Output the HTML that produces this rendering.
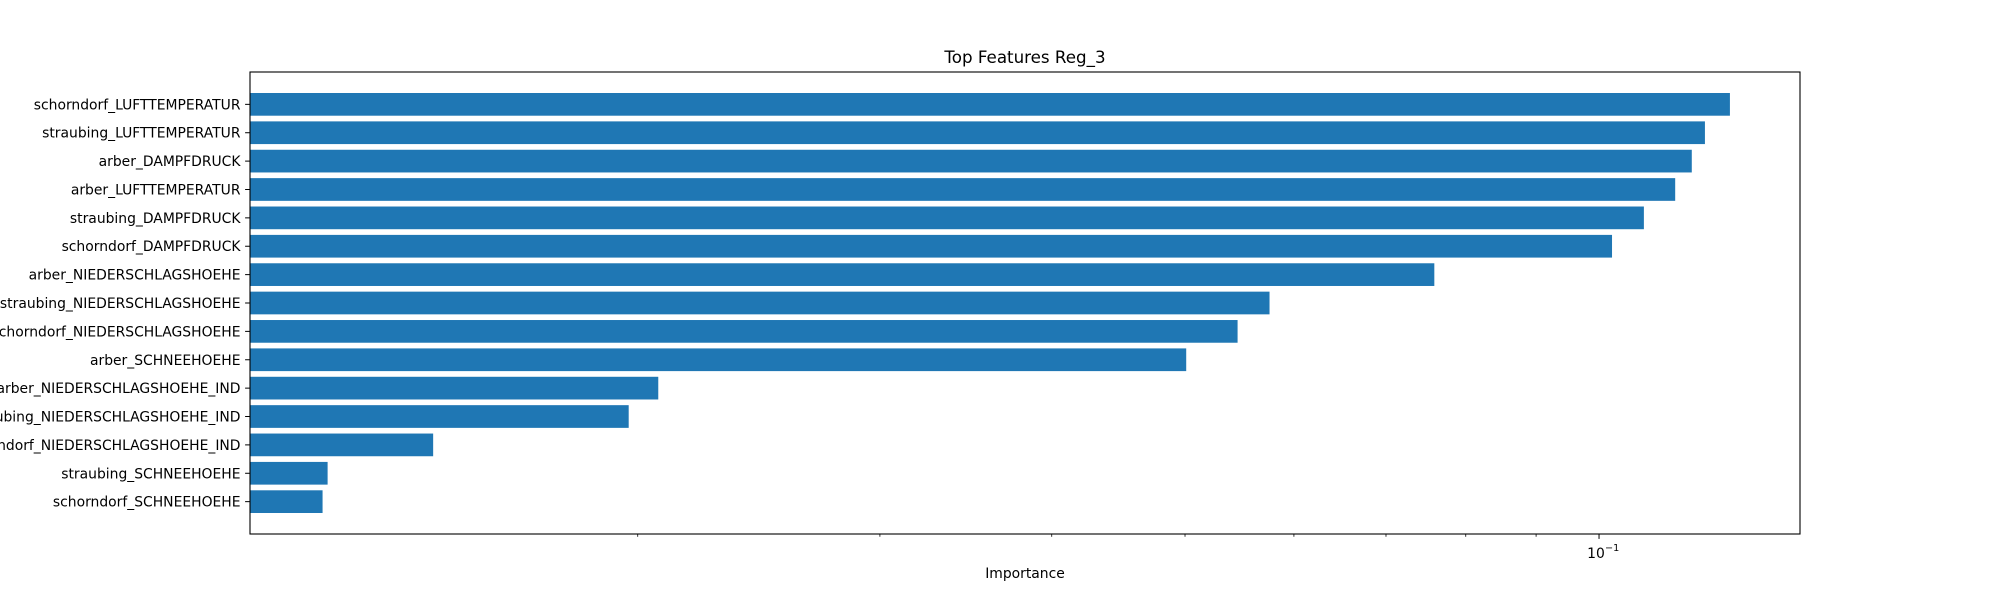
<!DOCTYPE html>
<html><head><meta charset="utf-8"><style>body{margin:0;background:#fff}svg{display:block}text{font-family:"DejaVu Sans","Liberation Sans",sans-serif;fill:#000}</style></head>
<body>
<svg id="chart" width="2000" height="600">
<rect x="0" y="0" width="2000" height="600" fill="#fff"/>
<g id="bars"></g><g id="yticks"></g><g id="xticks"></g>
<rect x="250" y="72" width="1550" height="462" fill="none" stroke="#000" stroke-width="1.1"/>
<text x="1025" y="63" font-size="16.7" text-anchor="middle">Top Features Reg_3</text>
<text x="1025" y="578" font-size="13.9" text-anchor="middle">Importance</text>
</svg>
<script>
const categories=["schorndorf_LUFTTEMPERATUR","straubing_LUFTTEMPERATUR","arber_DAMPFDRUCK","arber_LUFTTEMPERATUR","straubing_DAMPFDRUCK","schorndorf_DAMPFDRUCK","arber_NIEDERSCHLAGSHOEHE","straubing_NIEDERSCHLAGSHOEHE","schorndorf_NIEDERSCHLAGSHOEHE","arber_SCHNEEHOEHE","arber_NIEDERSCHLAGSHOEHE_IND","straubing_NIEDERSCHLAGSHOEHE_IND","schorndorf_NIEDERSCHLAGSHOEHE_IND","straubing_SCHNEEHOEHE","schorndorf_SCHNEEHOEHE"];
const importance=[0.1245,0.1194,0.1168,0.1136,0.1078,0.1022,0.0759,0.0576,0.0546,0.0501,0.0207,0.0197,0.0142,0.0119,0.0118];
const majorTicks=[0.1];
const majorTickLabels=["10"];
const minorTicks=[0.02,0.03,0.04,0.05,0.06,0.07,0.08,0.09];
const NS="http://www.w3.org/2000/svg";
const L=250,R=1800,T=72,B=534,xmin=0.01045,xmax=0.14;
function xs(v){return L+(Math.log10(v)-Math.log10(xmin))/(Math.log10(xmax)-Math.log10(xmin))*(R-L);}
const n=categories.length,y0=-1.14,y1=n-1+1.14;
function ys(i){return T+(i-y0)/(y1-y0)*(B-T);}
function mk(t,a,p){const e=document.createElementNS(NS,t);for(const k in a)e.setAttribute(k,a[k]);p.appendChild(e);return e;}
const gb=document.getElementById('bars'),gy=document.getElementById('yticks'),gx=document.getElementById('xticks');
const bh=ys(0.4)-ys(-0.4);
categories.forEach((c,i)=>{
 const r=mk('rect',{x:L,y:ys(i)-bh/2,width:Math.max(0,xs(importance[i])-L),height:bh,fill:'#1f77b4'},gb);
 
 
 mk('line',{x1:L-4.9,x2:L,y1:ys(i),y2:ys(i),stroke:'#000','stroke-width':1},gy);
 const t=mk('text',{x:L-9.5,y:ys(i)+5,'font-size':13.9,'text-anchor':'end'},gy);
 t.textContent=c;
 
 
});
majorTicks.forEach((v,i)=>{
 const x=xs(v);
 mk('line',{x1:x,x2:x,y1:B,y2:B+4.9,stroke:'#000','stroke-width':1},gx);
 const t=mk('text',{x:x-3,y:B+24,'font-size':13.9,'text-anchor':'middle'},gx);
 t.textContent=majorTickLabels[i];
 
 
 const s=mk('text',{x:x+6,y:B+17,'font-size':9.7},gx);
 s.textContent='\u22121';
 
 
});
minorTicks.forEach(v=>{const x=xs(v);mk('line',{x1:x,x2:x,y1:B,y2:B+2.8,stroke:'#000','stroke-width':0.8},gx);});
</script>
</body></html>
